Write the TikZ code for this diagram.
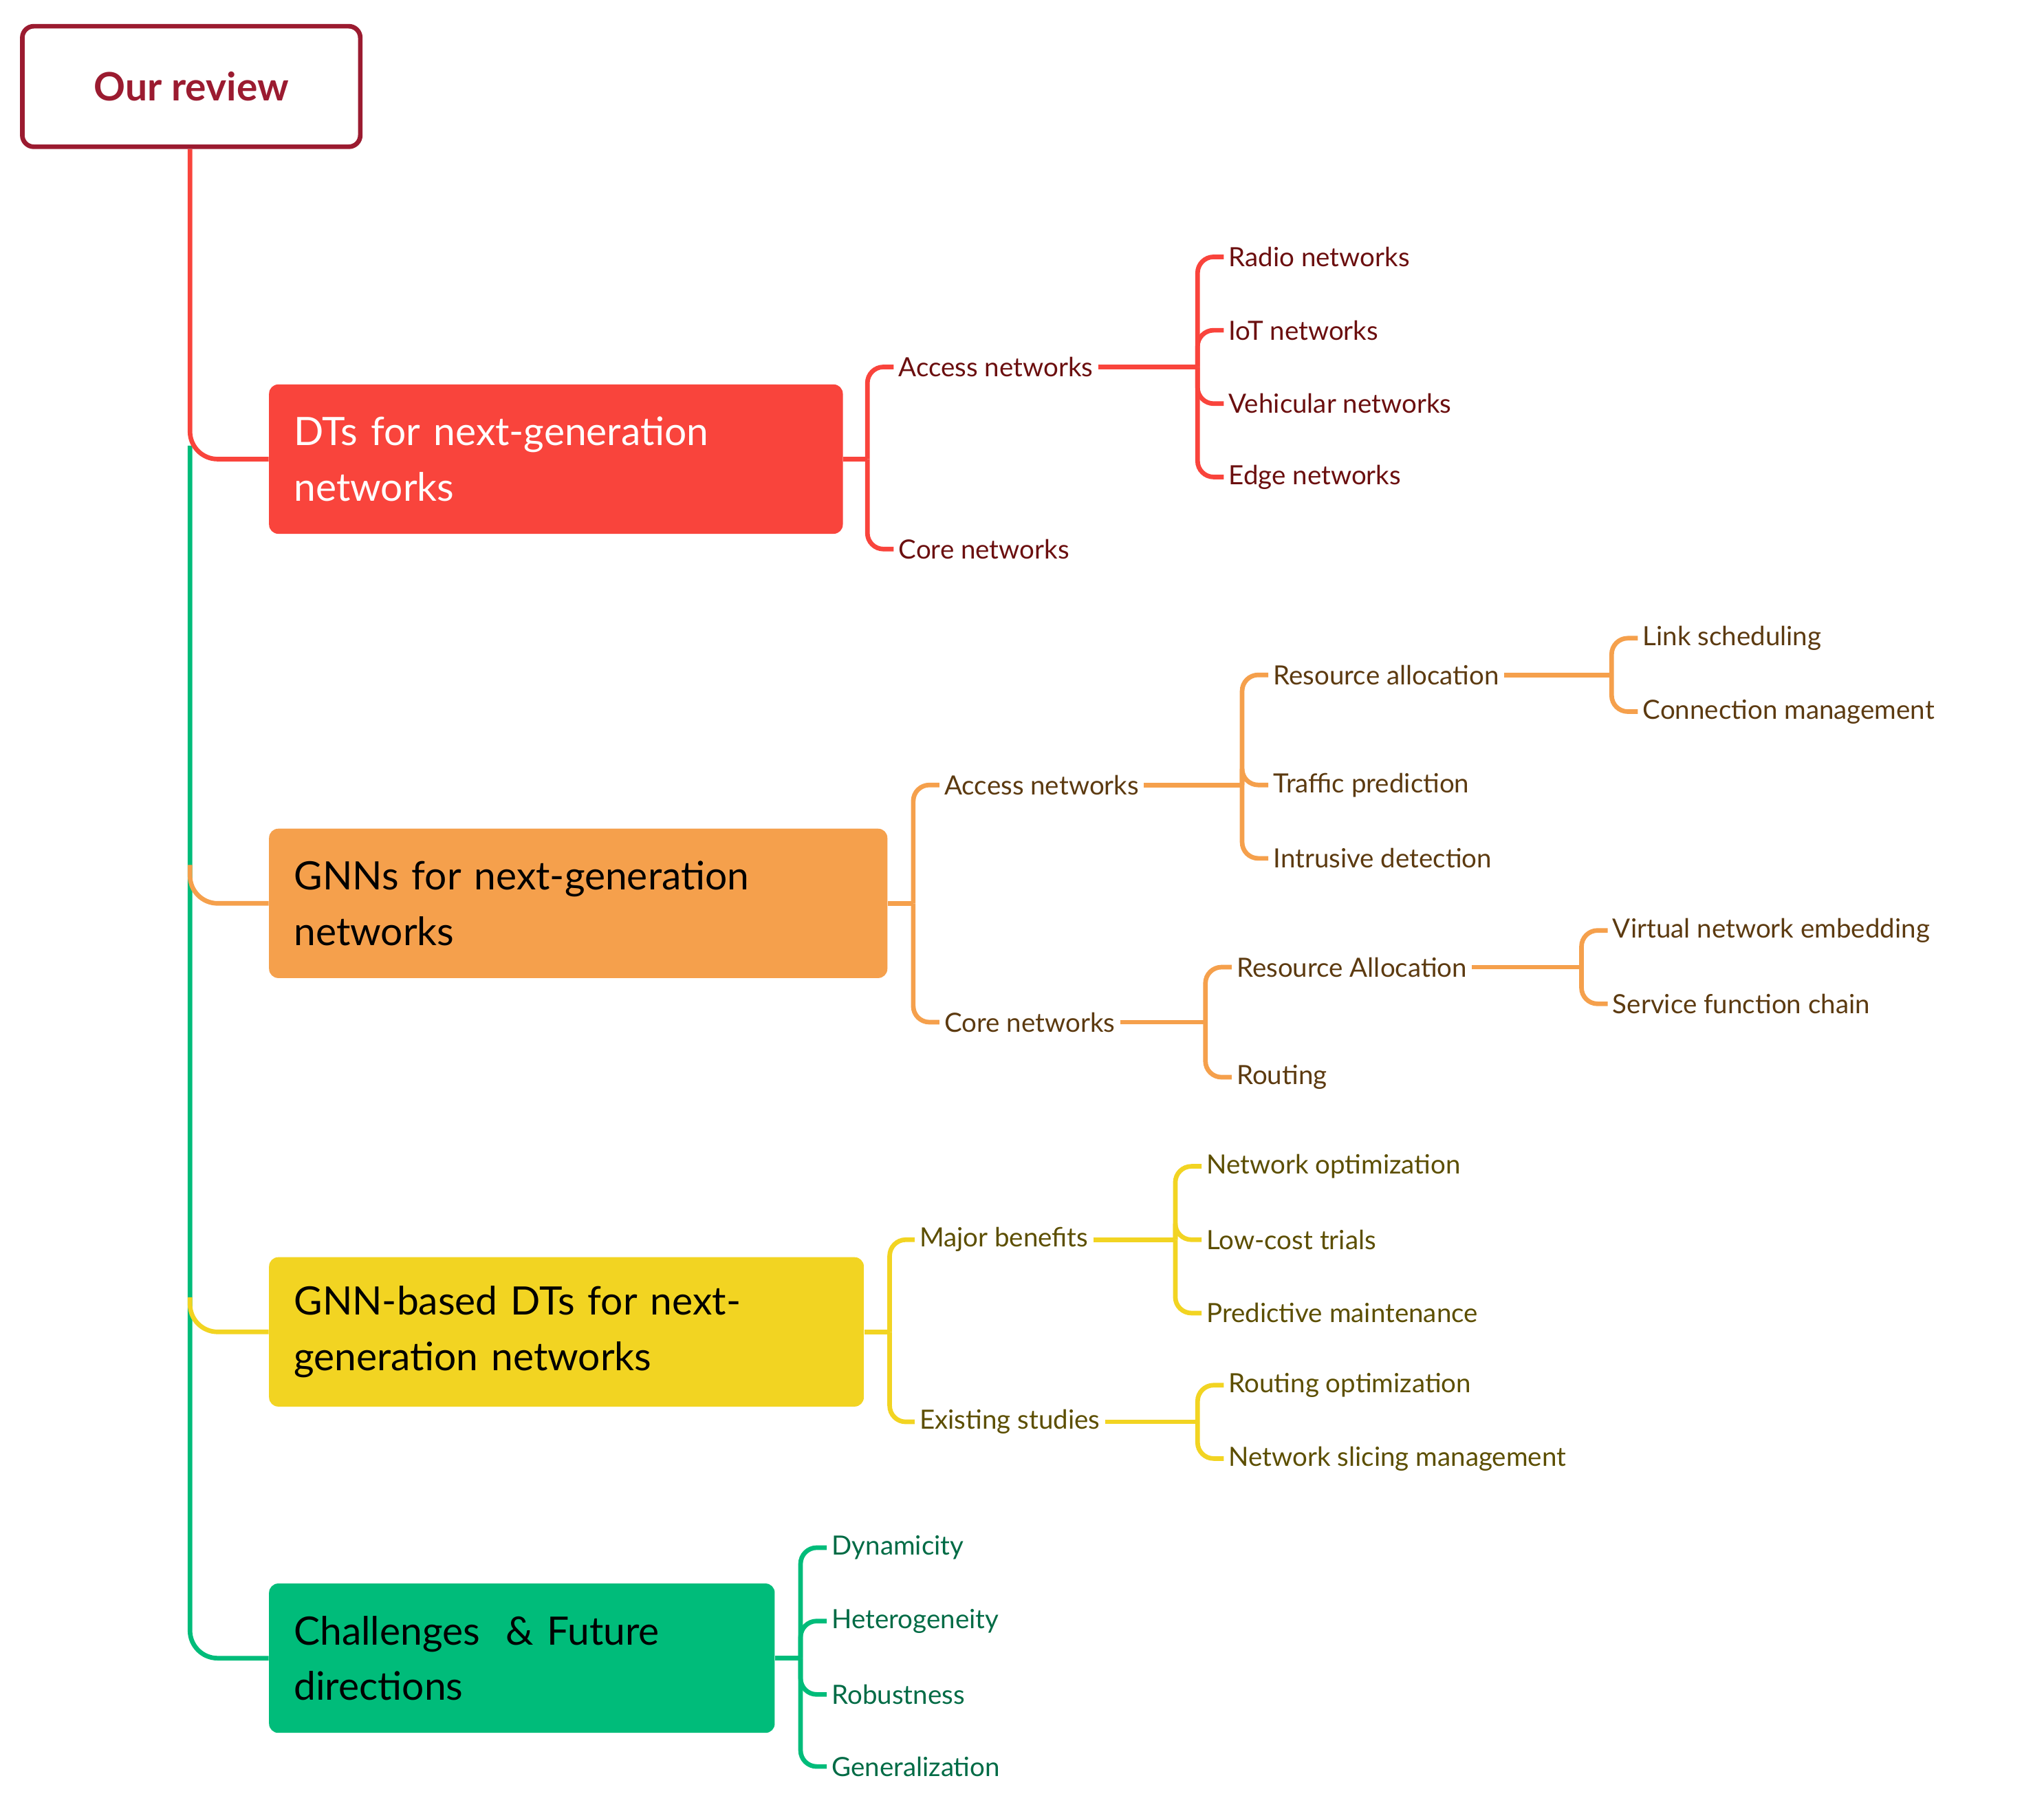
\documentclass[tikz,border=0pt]{standalone}
\usepackage{fontspec}
\setmainfont{Lato}
\definecolor{cR}{HTML}{F9443C}
\definecolor{cO}{HTML}{F5A04C}
\definecolor{cY}{HTML}{F2D422}
\definecolor{cG}{HTML}{00BC7A}
\definecolor{cRev}{HTML}{9B1B30}
\definecolor{tR}{HTML}{6B0F0F}
\definecolor{tO}{HTML}{5C3A10}
\definecolor{tY}{HTML}{5C4E00}
\definecolor{tG}{HTML}{006B45}
\newcommand\mybr[4]{\coordinate (tmpb) at (#3,0);
 \draw[#1] (#2.east) -- (#2.east -| tmpb);
 \foreach \ch in {#4} {\draw[#1,rounded corners=7] (#2.east -| tmpb) |- (\ch.west);}}
\begin{document}
\begin{tikzpicture}[x=0.02cm,y=-0.02cm,
 ln/.style={line width=2pt},
 lbl/.style={anchor=west,inner xsep=2pt,inner ysep=1pt,font=\fontsize{11.5}{14}\selectfont},
 box/.style={anchor=north west,rounded corners=4pt,inner xsep=0.38cm,align=left,font=\fontsize{17}{24}\selectfont,minimum height=2.28cm}]
\useasboundingbox (0,0) rectangle (1560,1370);
\node[draw=cRev,line width=2pt,fill=white,rounded corners=5pt,minimum width=5.16cm,minimum height=1.84cm,text=cRev,font=\fontsize{17}{20}\selectfont\bfseries] (rev) at (146,66) {Our review};
\node[box,fill=cR,text=white,text width=8.0cm] (dt) at (205,293) {DTs for next-generation\\networks};
\node[box,fill=cO,text=black,text width=8.68cm] (gnn) at (205,632) {GNNs for next-generation\\networks};
\node[box,fill=cY,text=black,text width=8.32cm] (gd) at (205,959) {GNN-based DTs for next-\\generation networks};
\node[box,fill=cG,text=black,text width=6.96cm] (chl) at (205,1208) {Challenges\ \ \& Future\\directions};
% trunk
\draw[ln,cG,rounded corners=12] (145,340) |- (chl.west);
\draw[ln,cO,rounded corners=12] (145,660) |- (gnn.west);
\draw[ln,cY,rounded corners=12] (145,990) |- (gd.west);
\draw[ln,cR,rounded corners=12] (rev.south -| 145,0) |- (dt.west);
% red
\begin{scope}[every node/.style={lbl,text=tR}]
\node (ra) at (682,280) {Access networks};
\node (rc) at (682,419) {Core networks};
\node (r1) at (934,196) {Radio networks};
\node (r2) at (934,252) {IoT networks};
\node (r3) at (934,308) {Vehicular networks};
\node (r4) at (934,364) {Edge networks};
\end{scope}
\mybr{ln,cR}{dt}{662}{ra,rc}
\mybr{ln,cR}{ra}{914}{r1,r2,r3,r4}
% orange
\begin{scope}[every node/.style={lbl,text=tO}]
\node (oa) at (717,599) {Access networks};
\node (oc) at (717,780) {Core networks};
\node (o1) at (968,515) {Resource allocation};
\node (o2) at (968,599) {Traffic prediction};
\node (o3) at (968,655) {Intrusive detection};
\node (o11) at (1250,487) {Link scheduling};
\node (o12) at (1250,543) {Connection management};
\node (o4) at (940,738) {Resource Allocation};
\node (o5) at (940,822) {Routing};
\node (o41) at (1227,710) {Virtual network embedding};
\node (o42) at (1227,766) {Service function chain};
\end{scope}
\mybr{ln,cO}{gnn}{697}{oa,oc}
\mybr{ln,cO}{oa}{948}{o1,o2,o3}
\mybr{ln,cO}{o1}{1230}{o11,o12}
\mybr{ln,cO}{oc}{920}{o4,o5}
\mybr{ln,cO}{o4}{1207}{o41,o42}
% yellow
\begin{scope}[every node/.style={lbl,text=tY}]
\node (ym) at (698,946) {Major benefits};
\node (ye) at (698,1085) {Existing studies};
\node (y1) at (917,890) {Network optimization};
\node (y2) at (917,946) {Low-cost trials};
\node (y3) at (917,1002) {Predictive maintenance};
\node (y4) at (934,1057) {Routing optimization};
\node (y5) at (934,1113) {Network slicing management};
\end{scope}
\mybr{ln,cY}{gd}{679}{ym,ye}
\mybr{ln,cY}{ym}{897}{y1,y2,y3}
\mybr{ln,cY}{ye}{914}{y4,y5}
% green
\begin{scope}[every node/.style={lbl,text=tG}]
\node (g1) at (631,1181) {Dynamicity};
\node (g2) at (631,1237) {Heterogeneity};
\node (g3) at (631,1293) {Robustness};
\node (g4) at (631,1348) {Generalization};
\end{scope}
\mybr{ln,cG}{chl}{611}{g1,g2,g3,g4}
\end{tikzpicture}
\end{document}
